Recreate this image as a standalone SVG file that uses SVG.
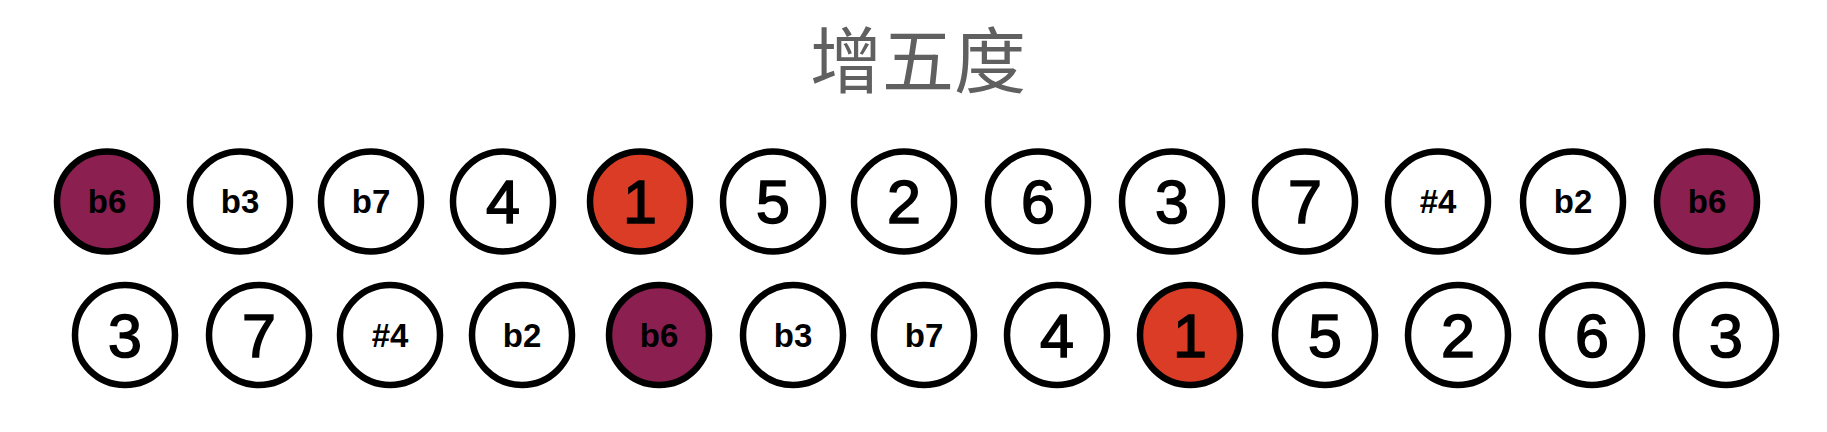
<svg xmlns="http://www.w3.org/2000/svg" width="1827" height="432" viewBox="0 0 1827 432">
<style>
.c{fill:#fff;stroke:#000;stroke-width:6.5}
.p{fill:#8A1F50}
.r{fill:#DA3C26}
.big{font-family:"Liberation Sans",Arial,sans-serif;font-size:61px;text-anchor:middle;fill:#000;stroke:#000;stroke-width:1.6}
.sm{font-family:"Liberation Sans",Arial,sans-serif;font-size:33px;font-weight:bold;text-anchor:middle;fill:#000}
.t{font-family:"Noto Sans CJK SC","Noto Sans",sans-serif;font-size:72px;fill:#606060;text-anchor:middle}
</style>
<rect width="1827" height="432" fill="#fff"/>
<text class="t" x="918" y="87">增五度</text>
<g id="connectors"/>
<g id="top-row">
<g id="t1"><circle class="c p" cx="107" cy="201.5" r="50"/><text class="sm" x="107" y="213">b6</text></g>
<g id="t2"><circle class="c" cx="240" cy="201.5" r="50"/><text class="sm" x="240" y="213">b3</text></g>
<g id="t3"><circle class="c" cx="371" cy="201.5" r="50"/><text class="sm" x="371" y="213">b7</text></g>
<g id="t4"><circle class="c" cx="503" cy="201.5" r="50"/><text class="big" x="503" y="223">4</text></g>
<g id="t5"><circle class="c r" cx="640" cy="201.5" r="50"/><text class="big" x="640" y="223">1</text></g>
<g id="t6"><circle class="c" cx="773" cy="201.5" r="50"/><text class="big" x="773" y="223">5</text></g>
<g id="t7"><circle class="c" cx="904" cy="201.5" r="50"/><text class="big" x="904" y="223">2</text></g>
<g id="t8"><circle class="c" cx="1038" cy="201.5" r="50"/><text class="big" x="1038" y="223">6</text></g>
<g id="t9"><circle class="c" cx="1172" cy="201.5" r="50"/><text class="big" x="1172" y="223">3</text></g>
<g id="t10"><circle class="c" cx="1305" cy="201.5" r="50"/><text class="big" x="1305" y="223">7</text></g>
<g id="t11"><circle class="c" cx="1438" cy="201.5" r="50"/><text class="sm" x="1438" y="213">#4</text></g>
<g id="t12"><circle class="c" cx="1573" cy="201.5" r="50"/><text class="sm" x="1573" y="213">b2</text></g>
<g id="t13"><circle class="c p" cx="1707" cy="201.5" r="50"/><text class="sm" x="1707" y="213">b6</text></g>
</g>
<g id="bottom-row">
<g id="b1"><circle class="c" cx="125" cy="335" r="50"/><text class="big" x="125" y="356.5">3</text></g>
<g id="b2"><circle class="c" cx="259" cy="335" r="50"/><text class="big" x="259" y="356.5">7</text></g>
<g id="b3"><circle class="c" cx="390" cy="335" r="50"/><text class="sm" x="390" y="346.5">#4</text></g>
<g id="b4"><circle class="c" cx="522" cy="335" r="50"/><text class="sm" x="522" y="346.5">b2</text></g>
<g id="b5"><circle class="c p" cx="659" cy="335" r="50"/><text class="sm" x="659" y="346.5">b6</text></g>
<g id="b6"><circle class="c" cx="793" cy="335" r="50"/><text class="sm" x="793" y="346.5">b3</text></g>
<g id="b7"><circle class="c" cx="924" cy="335" r="50"/><text class="sm" x="924" y="346.5">b7</text></g>
<g id="b8"><circle class="c" cx="1057" cy="335" r="50"/><text class="big" x="1057" y="356.5">4</text></g>
<g id="b9"><circle class="c r" cx="1190" cy="335" r="50"/><text class="big" x="1190" y="356.5">1</text></g>
<g id="b10"><circle class="c" cx="1325" cy="335" r="50"/><text class="big" x="1325" y="356.5">5</text></g>
<g id="b11"><circle class="c" cx="1458" cy="335" r="50"/><text class="big" x="1458" y="356.5">2</text></g>
<g id="b12"><circle class="c" cx="1592" cy="335" r="50"/><text class="big" x="1592" y="356.5">6</text></g>
<g id="b13"><circle class="c" cx="1726" cy="335" r="50"/><text class="big" x="1726" y="356.5">3</text></g>
</g>
</svg>
